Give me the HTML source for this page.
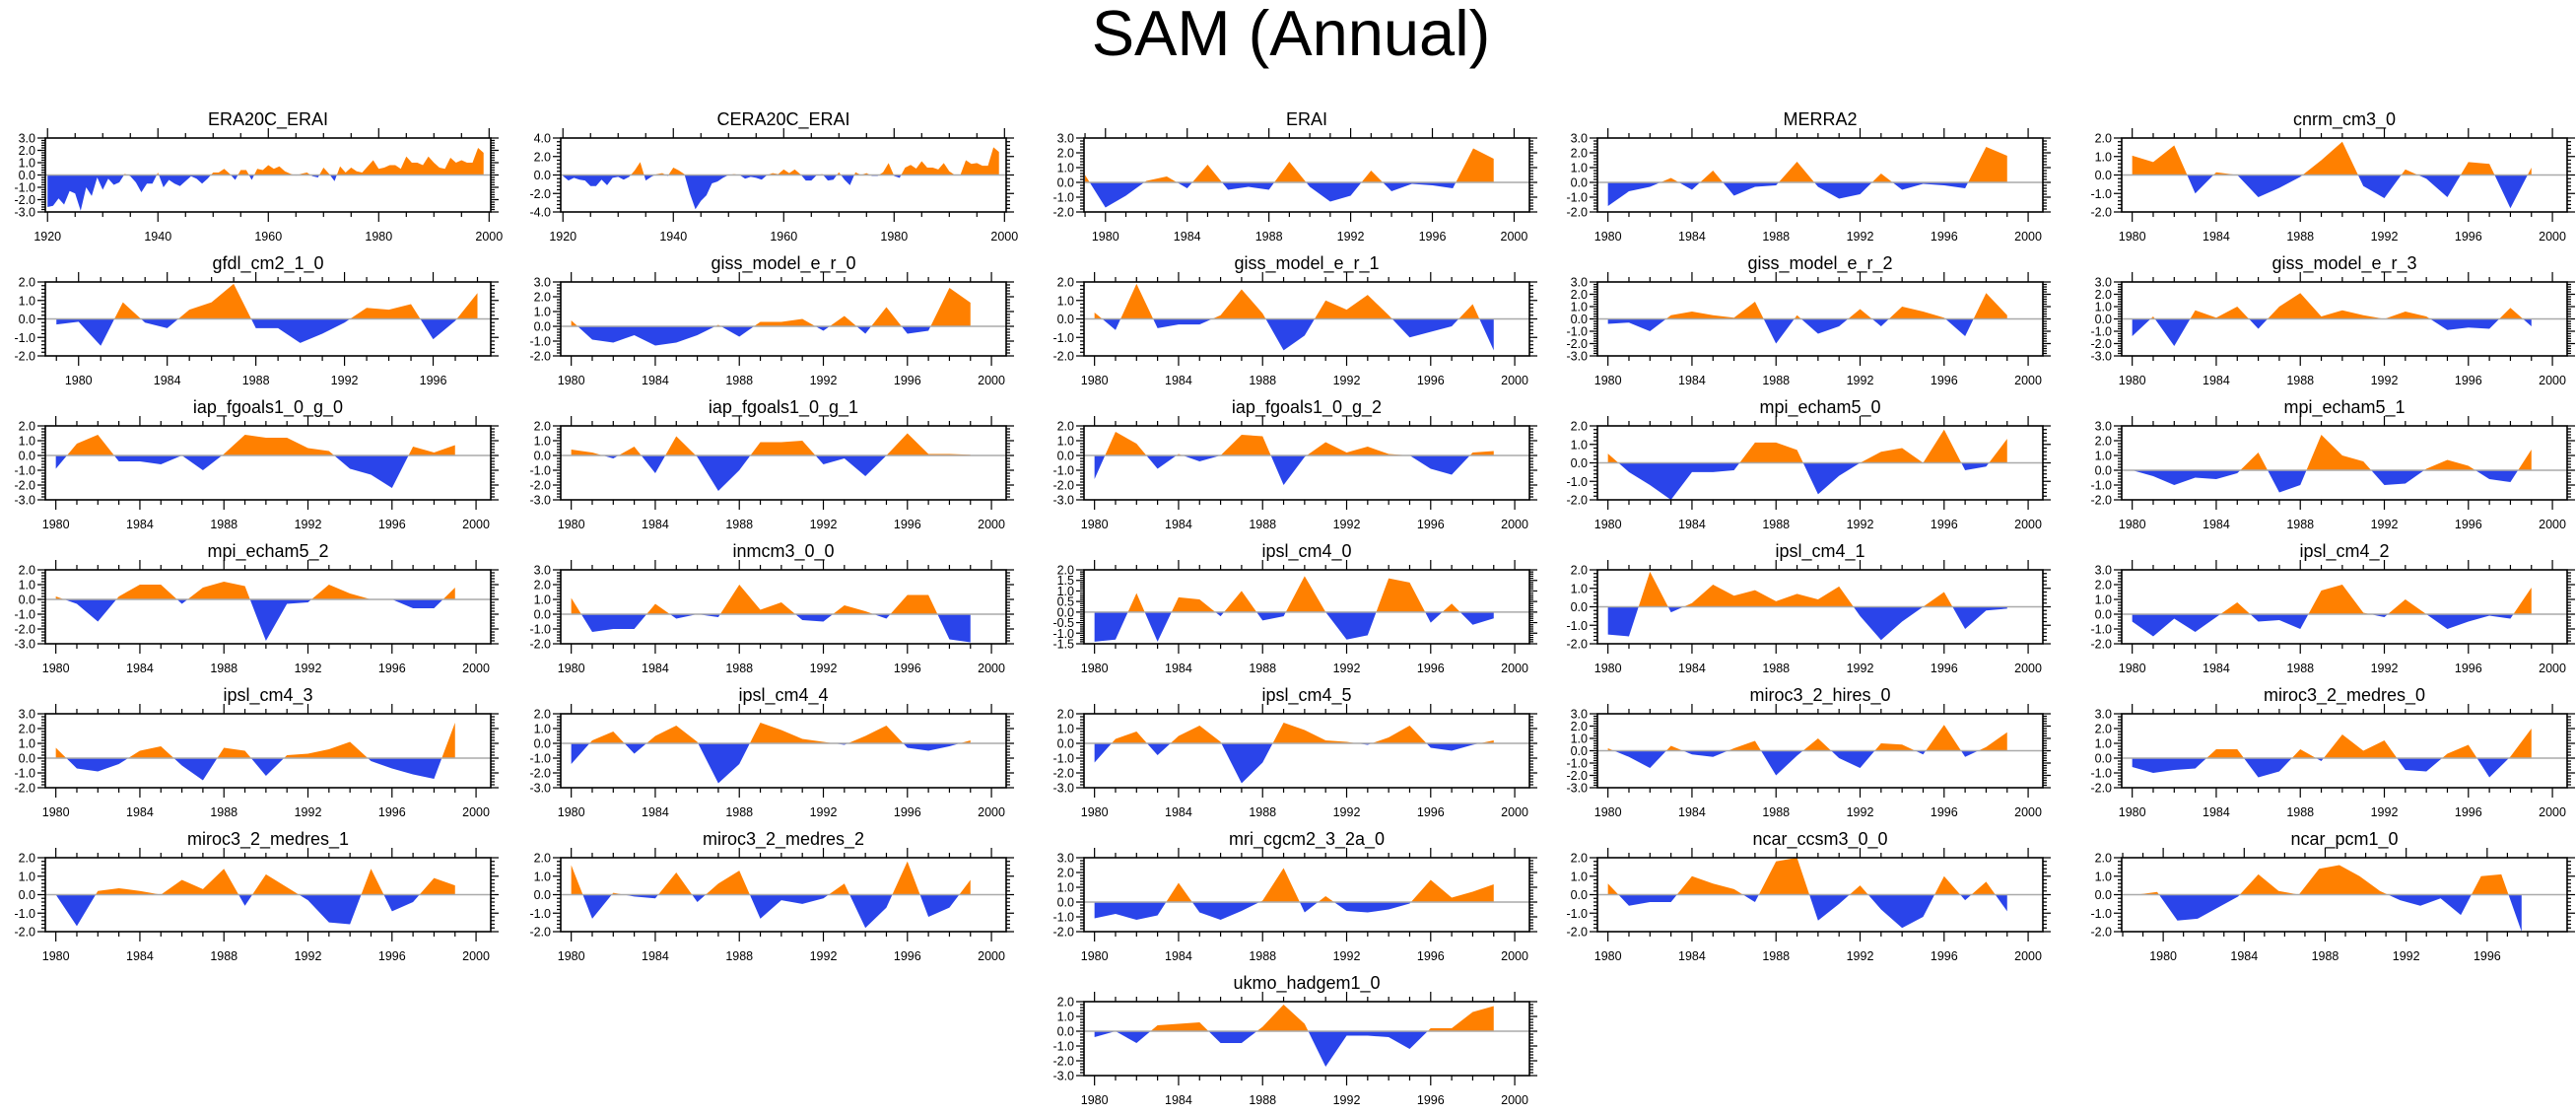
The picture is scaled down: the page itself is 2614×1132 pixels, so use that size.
<!DOCTYPE html>
<html><head><meta charset="utf-8"><title>SAM (Annual)</title>
<style>
html,body{margin:0;padding:0;background:#fff;}
svg{display:block;font-family:"Liberation Sans",Arial,sans-serif;}
</style></head>
<body>
<svg id="chart" width="2614" height="1132" viewBox="0 0 2614 1132" xmlns="http://www.w3.org/2000/svg">
<rect width="2614" height="1132" fill="#fff"/>
<text x="1310" y="56" font-size="65" text-anchor="middle" fill="#000">SAM (Annual)</text>
</svg>
<script>
// ---- data arrays ----
const era20cValues = [-2.6,-2.5,-1.9,-2.4,-1.3,-1.5,-2.9,-1.0,-1.7,-0.2,-1.2,-0.3,-0.8,-0.6,0.1,-0.1,-0.6,-1.4,-0.7,-0.7,0.2,-1.0,-0.4,-0.7,-0.9,-0.5,-0.1,-0.3,-0.7,-0.3,0.2,0.2,0.5,0.1,-0.4,0.4,0.4,-0.4,0.5,0.4,0.8,0.5,0.7,0.3,0.1,-0.05,0.1,0.2,-0.1,-0.2,0.6,0.1,-0.5,0.7,0.2,0.6,0.3,0.2,0.7,1.2,0.5,0.6,0.8,0.8,0.5,1.5,1.0,1.0,0.8,1.5,1.0,0.6,0.5,1.4,1.0,1.2,1.0,1.0,2.2,1.8];
const cera20cValues = [-0.1,-0.6,-0.3,-0.5,-0.6,-1.2,-1.2,-0.5,-1.1,-0.3,-0.2,-0.5,-0.2,0.5,1.4,-0.6,-0.2,0.1,0.2,-0.1,0.8,0.5,0.1,-2.0,-3.7,-2.8,-2.2,-0.9,-0.7,-0.3,0.0,0.1,0.0,-0.4,-0.2,-0.3,-0.5,0.0,0.2,0.1,0.6,0.2,0.6,0.1,-0.6,-0.6,0.0,0.1,-0.6,-0.5,0.3,-0.5,-1.1,0.3,0.0,0.2,-0.1,-0.1,0.3,1.3,-0.1,-0.3,0.8,1.1,0.7,1.5,0.8,0.8,0.6,1.3,0.4,0.0,0.0,1.6,1.2,1.3,1.0,1.0,3.0,2.5];
const eraiValues = [0.5,-1.7,-0.9,0.1,0.4,-0.4,1.2,-0.5,-0.3,-0.5,1.4,-0.3,-1.3,-0.9,0.8,-0.6,-0.1,-0.2,-0.4,2.3,1.6];
const merra2Values = [-1.6,-0.6,-0.3,0.3,-0.5,0.8,-0.9,-0.3,-0.2,1.4,-0.3,-1.1,-0.8,0.6,-0.5,-0.1,-0.2,-0.4,2.4,1.8];
const cnrmCm3Values = [1.05,0.7,1.6,-1.0,0.15,0.0,-1.2,-0.7,-0.1,0.8,1.8,-0.6,-1.25,0.3,-0.2,-1.2,0.7,0.6,-1.8,0.4];
const gfdlValues = [-0.3,-0.15,-1.45,0.9,-0.2,-0.5,0.5,0.9,1.9,-0.5,-0.5,-1.3,-0.8,-0.2,0.6,0.5,0.8,-1.1,-0.1,1.4];
const gissR0Values = [0.4,-0.9,-1.1,-0.6,-1.3,-1.1,-0.6,0.1,-0.7,0.3,0.3,0.5,-0.3,0.7,-0.5,1.3,-0.5,-0.3,2.6,1.6];
const gissR1Values = [0.35,-0.6,1.9,-0.5,-0.3,-0.3,0.2,1.6,0.3,-1.7,-0.9,1.0,0.5,1.3,0.2,-1.0,-0.7,-0.4,0.8,-1.7];
const gissR2Values = [-0.4,-0.3,-1.0,0.3,0.6,0.3,0.1,1.4,-2.0,0.3,-1.2,-0.6,0.8,-0.6,1.0,0.6,0.1,-1.4,2.1,0.3];
const gissR3Values = [-1.4,0.2,-2.2,0.7,0.1,1.0,-0.8,1.0,2.1,0.2,0.7,0.3,0.0,0.6,0.2,-0.9,-0.7,-0.8,0.9,-0.6];
const iapG0Values = [-0.9,0.8,1.4,-0.4,-0.4,-0.6,0.0,-1.0,0.1,1.4,1.2,1.2,0.5,0.3,-0.9,-1.3,-2.2,0.6,0.2,0.7];
const iapG1Values = [0.4,0.2,-0.2,0.6,-1.2,1.3,-0.1,-2.4,-1.0,0.9,0.9,1.0,-0.6,-0.2,-1.4,0.0,1.5,0.1,0.1,0.05];
const iapG2Values = [-1.6,1.6,0.8,-0.9,0.1,-0.4,0.0,1.4,1.3,-2.0,-0.1,0.9,0.2,0.6,0.1,0.0,-0.9,-1.3,0.2,0.3];
const mpi0Values = [0.5,-0.5,-1.2,-2.0,-0.5,-0.5,-0.4,1.1,1.1,0.7,-1.7,-0.7,0.0,0.6,0.8,0.0,1.8,-0.4,-0.2,1.3];
const mpi1Values = [0.0,-0.4,-1.0,-0.5,-0.6,-0.2,1.2,-1.5,-1.0,2.4,1.0,0.6,-1.0,-0.9,0.1,0.7,0.3,-0.6,-0.8,1.4];
const mpi2Values = [0.2,-0.3,-1.5,0.2,1.0,1.0,-0.3,0.8,1.2,0.9,-2.8,-0.3,-0.2,1.0,0.4,0.0,0.0,-0.6,-0.6,0.8];
const inmcm3Values = [1.1,-1.2,-1.0,-1.0,0.7,-0.3,0.0,-0.2,2.0,0.3,0.8,-0.4,-0.5,0.6,0.2,-0.3,1.3,1.3,-1.7,-1.9];
const ipsl0Values = [-1.4,-1.3,0.9,-1.4,0.7,0.6,-0.2,1.0,-0.4,-0.2,1.7,0.0,-1.3,-1.1,1.6,1.4,-0.5,0.4,-0.6,-0.3];
const ipsl1Values = [-1.5,-1.6,1.9,-0.3,0.2,1.2,0.6,0.9,0.3,0.7,0.4,1.1,-0.5,-1.8,-0.8,0.0,0.8,-1.2,-0.2,-0.1];
const ipsl2Values = [-0.5,-1.5,-0.3,-1.2,-0.2,0.8,-0.5,-0.4,-1.0,1.6,2.0,0.1,-0.2,1.0,0.0,-1.0,-0.5,-0.1,-0.3,1.8];
const ipsl3Values = [0.7,-0.7,-0.9,-0.4,0.5,0.8,-0.5,-1.5,0.7,0.5,-1.2,0.2,0.3,0.6,1.1,-0.2,-0.7,-1.1,-1.4,2.4];
const ipsl4Values = [-1.4,0.2,0.8,-0.7,0.5,1.2,0.1,-2.7,-1.4,1.4,0.9,0.3,0.1,-0.1,0.5,1.2,-0.3,-0.5,-0.2,0.2];
const ipsl5Values = [-1.3,0.3,0.8,-0.8,0.5,1.2,0.1,-2.7,-1.3,1.4,0.9,0.2,0.1,-0.1,0.4,1.2,-0.3,-0.5,-0.1,0.2];
const mirocHiresValues = [0.2,-0.5,-1.4,0.4,-0.3,-0.5,0.2,0.8,-2.0,-0.4,1.0,-0.6,-1.4,0.6,0.5,-0.3,2.1,-0.5,0.3,1.5];
const mirocMed0Values = [-0.6,-1.0,-0.8,-0.7,0.6,0.6,-1.3,-0.9,0.6,-0.2,1.6,0.5,1.2,-0.8,-0.9,0.3,0.9,-1.3,0.1,2.0];
const mirocMed1Values = [0.0,-1.7,0.2,0.35,0.2,0.0,0.8,0.3,1.4,-0.6,1.1,0.4,-0.3,-1.5,-1.6,1.4,-0.9,-0.4,0.9,0.5];
const mirocMed2Values = [1.6,-1.3,0.1,-0.1,-0.2,1.2,-0.4,0.6,1.3,-1.3,-0.3,-0.5,-0.2,0.6,-1.8,-0.7,1.8,-1.2,-0.7,0.8];
const mriValues = [-1.1,-0.8,-1.2,-0.9,1.3,-0.7,-1.2,-0.6,0.1,2.3,-0.7,0.4,-0.6,-0.7,-0.5,-0.1,1.5,0.3,0.7,1.2];
const ncarCcsm3Values = [0.6,-0.6,-0.4,-0.4,1.0,0.6,0.3,-0.4,1.8,2.0,-1.4,-0.5,0.5,-0.8,-1.8,-1.2,1.0,-0.3,0.7,-0.9];
const ncarPcm1Values = [0.0,0.15,-1.4,-1.3,-0.7,-0.1,1.1,0.2,0.0,1.4,1.6,1.0,0.2,-0.3,-0.6,-0.2,-1.1,1.0,1.1,-2.0];
const ukmoValues = [-0.4,0.0,-0.8,0.4,0.5,0.6,-0.8,-0.8,0.3,1.8,0.5,-2.4,-0.3,-0.3,-0.4,-1.2,0.2,0.2,1.3,1.7];

const panelNames = ["ERA20C_ERAI","CERA20C_ERAI","ERAI","MERRA2","cnrm_cm3_0",
 "gfdl_cm2_1_0","giss_model_e_r_0","giss_model_e_r_1","giss_model_e_r_2","giss_model_e_r_3",
 "iap_fgoals1_0_g_0","iap_fgoals1_0_g_1","iap_fgoals1_0_g_2","mpi_echam5_0","mpi_echam5_1",
 "mpi_echam5_2","inmcm3_0_0","ipsl_cm4_0","ipsl_cm4_1","ipsl_cm4_2",
 "ipsl_cm4_3","ipsl_cm4_4","ipsl_cm4_5","miroc3_2_hires_0","miroc3_2_medres_0",
 "miroc3_2_medres_1","miroc3_2_medres_2","mri_cgcm2_3_2a_0","ncar_ccsm3_0_0","ncar_pcm1_0",
 "ukmo_hadgem1_0"];
const panelValues = [era20cValues,cera20cValues,eraiValues,merra2Values,cnrmCm3Values,
 gfdlValues,gissR0Values,gissR1Values,gissR2Values,gissR3Values,
 iapG0Values,iapG1Values,iapG2Values,mpi0Values,mpi1Values,
 mpi2Values,inmcm3Values,ipsl0Values,ipsl1Values,ipsl2Values,
 ipsl3Values,ipsl4Values,ipsl5Values,mirocHiresValues,mirocMed0Values,
 mirocMed1Values,mirocMed2Values,mriValues,ncarCcsm3Values,ncarPcm1Values,ukmoValues];
const panelStartYears = [1920,1920,1979,1980,1980, 1979,1980,1980,1980,1980, 1980,1980,1980,1980,1980,
 1980,1980,1980,1980,1980, 1980,1980,1980,1980,1980, 1980,1980,1980,1980,1978.7, 1980];
const panelYMax = [3,4,3,3,2, 2,3,2,3,3, 2,2,2,2,3, 2,3,2,2,3, 3,2,2,3,3, 2,2,3,2,2, 2];
const panelYMin = [-3,-4,-2,-2,-2, -2,-2,-2,-3,-3, -3,-3,-3,-2,-2, -3,-2,-1.5,-2,-2, -2,-3,-3,-3,-2, -2,-2,-2,-2,-2, -3];
const panelYStep = [1,2,1,1,1, 1,1,1,1,1, 1,1,1,1,1, 1,1,0.5,1,1, 1,1,1,1,1, 1,1,1,1,1, 1];

// ---- layout (not data) ----
const colX = [46,569,1100,1621,2153];
const rowY = [140,286,432,578,724,870,1016];
const PW = 452, PH = 75;
const svg = document.getElementById('chart');
const NS = "http://www.w3.org/2000/svg";
function mk(tag, attrs, parent){
  const e = document.createElementNS(NS, tag);
  for (const k in attrs) e.setAttribute(k, attrs[k]);
  (parent||svg).appendChild(e);
  return e;
}
function xRange(i){
  if (i<2) return [1919.6,2000.3];
  if (i===2) return [1978.95,2000.75];
  if (i===5) return [1978.5,1998.6];
  if (i===29) return [1977.95,1999.95];
  return [1979.5,2000.7];
}

panelValues.forEach((vals, i) => {
  const col = i===30 ? 2 : i%5;
  const row = Math.floor(i/5);
  const L = colX[col], T = rowY[row];
  const [xmin,xmax] = xRange(i);
  const ymax = panelYMax[i], ymin = panelYMin[i], ystep = panelYStep[i];
  const xs = v => L + (v-xmin)/(xmax-xmin)*PW;
  const ys = v => T + (ymax-v)/(ymax-ymin)*PH;
  const g = mk('g', {});
  
  

  const title = mk('text', {x: L+PW/2, y: T-13, 'font-size': 18, 'text-anchor':'middle', fill:'#000'}, g);
  title.textContent = panelNames[i];
  
  

  const y0 = ys(0);
  const start = panelStartYears[i];
  let d = 'M' + xs(start) + ',' + y0;
  vals.forEach((v,k) => { d += ' L' + xs(start+k) + ',' + ys(v); });
  d += ' L' + xs(start+vals.length-1) + ',' + y0 + ' Z';
  const cpA = mk('clipPath', {id:'ca'+i}, g);
  mk('rect', {x:L, y:T, width:PW, height:y0-T}, cpA);
  const cpB = mk('clipPath', {id:'cb'+i}, g);
  mk('rect', {x:L, y:y0, width:PW, height:T+PH-y0}, cpB);
  const pos = mk('path', {d:d, fill:'#ff8000', 'clip-path':'url(#ca'+i+')'}, g);
  
  
  const neg = mk('path', {d:d, fill:'#2a44ea', 'clip-path':'url(#cb'+i+')'}, g);
  
  
  const zl = mk('line', {x1:L, x2:L+PW, y1:y0, y2:y0, stroke:'#aaaaaa', 'stroke-width':1.5}, g);
  
  

  const fr = mk('rect', {x:L, y:T, width:PW, height:PH, fill:'none', stroke:'#000', 'stroke-width':1.6}, g);
  
  

  const major = i<2 ? 20 : 4, minor = i<2 ? 5 : 1;
  let tk = '';
  for (let yr = Math.ceil(xmin/minor)*minor; yr <= xmax+1e-6; yr += minor) {
    const x = xs(yr), isMaj = (yr % major === 0), len = isMaj ? 10 : 5;
    tk += 'M'+x+','+(T+PH)+' v'+len+' M'+x+','+T+' v'+(-len)+' ';
    if (isMaj) {
      const t = mk('text', {x:x, y:T+PH+29, 'font-size':12.5, 'text-anchor':'middle', fill:'#000'}, g);
      t.textContent = yr;
      
      
    }
  }
  const ym = ystep/5;
  const nMin = Math.round((ymax-ymin)/ym);
  for (let k=0; k<=nMin; k++) {
    const v = ymax - k*ym, y = ys(v), isMaj = (k%5===0), len = isMaj ? 8 : 4;
    tk += 'M'+L+','+y+' h'+(-len)+' M'+(L+PW)+','+y+' h'+len+' ';
    if (isMaj) {
      const t = mk('text', {x:L-10, y:y+4.5, 'font-size':12.5, 'text-anchor':'end', fill:'#000'}, g);
      t.textContent = (Math.abs(v)<1e-9 ? 0 : v).toFixed(1);
      
      
    }
  }
  const tp = mk('path', {d:tk, stroke:'#000', 'stroke-width':1.2, fill:'none'}, g);
  
  
});
</script>
</body></html>
